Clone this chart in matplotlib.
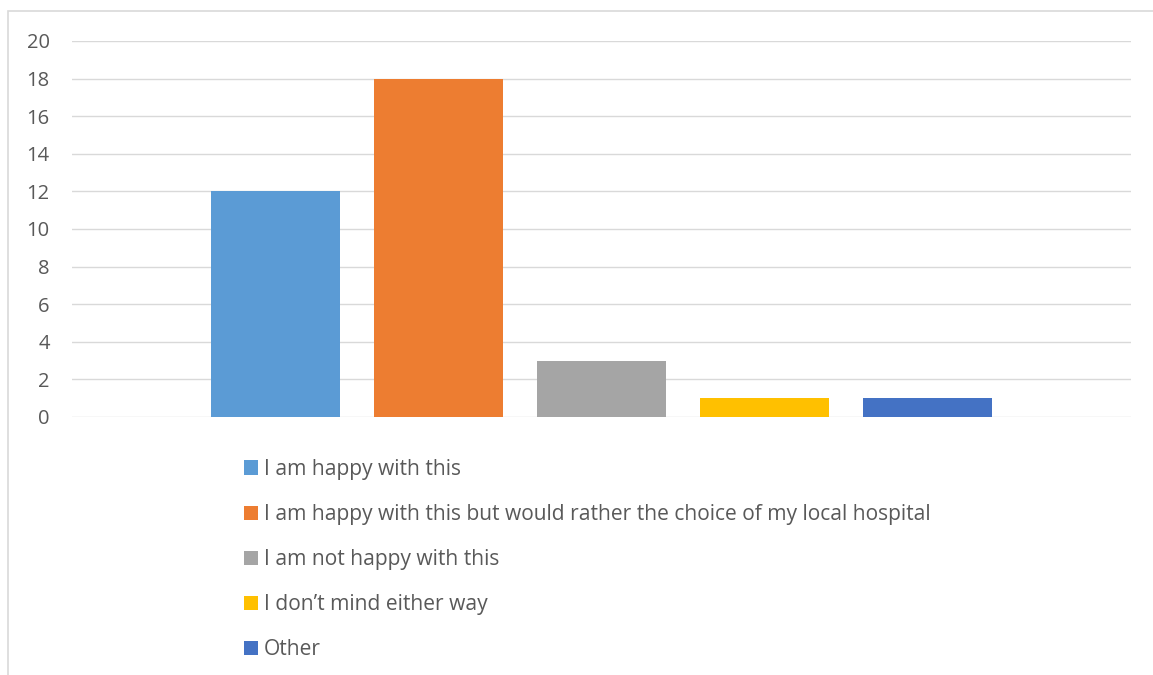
import matplotlib
matplotlib.use('Agg')
import matplotlib.pyplot as plt
from matplotlib.patches import Rectangle

plt.rcParams['font.family'] = ['Open Sans', 'DejaVu Sans']

# 回答类别与人数
labels = ['I am happy with this',
          'I am happy with this but would rather the choice of my local hospital',
          'I am not happy with this',
          'I don\u2019t mind either way',
          'Other']
counts = [12, 18, 3, 1, 1]
colors = ['#5B9BD5', '#ED7D31', '#A5A5A5', '#FFC000', '#4472C4']
y_ticks = list(range(0, 21, 2))

W, H = 1153, 675
fig = plt.figure(figsize=(W / 100, H / 100), dpi=100)
ax = fig.add_axes([72 / W, 1 - 417 / H, (1131 - 72) / W, (417 - 41) / H])

for i, (lab, val, col) in enumerate(zip(labels, counts, colors)):
    ax.bar(i, val, width=0.79, color=col, label=lab, zorder=3)

ax.set_xlim(2 - 3.248, 2 + 3.248)
ax.set_ylim(0, 20)
ax.set_yticks(y_ticks)
ax.set_xticks([])
ax.grid(axis='y', color='#D9D9D9', linewidth=1.0, zorder=0)
for s in ax.spines.values():
    s.set_visible(False)
ax.tick_params(axis='y', length=0, pad=16, labelsize=14.5, labelcolor='#595959')

leg = fig.legend(loc='upper left', bbox_to_anchor=(244 / W, 1 - 459 / H),
                 frameon=False, fontsize=15.1, labelcolor='#595959',
                 handlelength=0.68, handleheight=0.68, handletextpad=0.25,
                 labelspacing=1.15, borderpad=0, borderaxespad=0)

# 图表外框（左边与上边）
fig.add_artist(Rectangle((8 / W, -0.1), 1.2, 1.1 - 11.5 / H,
                         transform=fig.transFigure, fill=False,
                         edgecolor='#D9D9D9', linewidth=1.2))

fig.savefig('out.png', dpi=100)
